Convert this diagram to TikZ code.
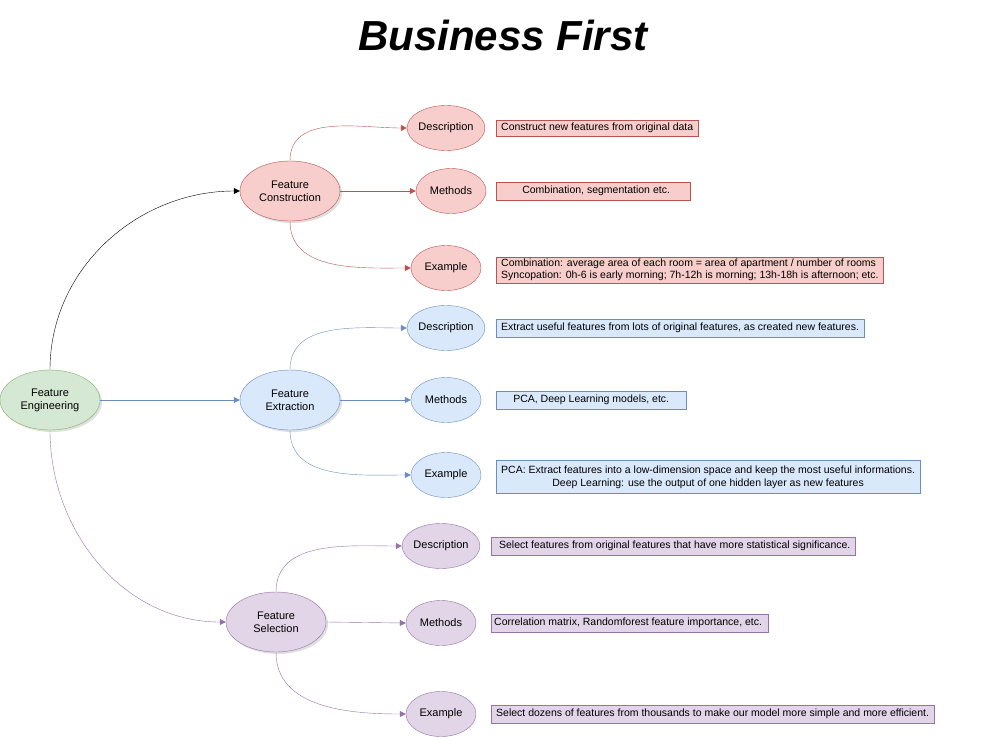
\documentclass[tikz,border=0pt]{standalone}
\usepackage{fontspec}
\setmainfont{Liberation Sans}
\usetikzlibrary{shapes.geometric,shadows,arrows.meta}
\definecolor{rf}{HTML}{F8CECC}
\definecolor{rd}{HTML}{B85450}
\definecolor{bf}{HTML}{DAE8FC}
\definecolor{bd}{HTML}{6C8EBF}
\definecolor{gf}{HTML}{D5E8D4}
\definecolor{gd}{HTML}{82B366}
\definecolor{pf}{HTML}{E1D5E7}
\definecolor{pd}{HTML}{9673A6}
\begin{document}
\begin{tikzpicture}[x=1pt,y=-1pt,
 big/.style={ellipse,minimum width=100pt,minimum height=60pt,inner sep=0pt,align=center,font=\fontsize{11}{13}\selectfont,drop shadow={shadow xshift=2pt,shadow yshift=-2pt,fill=black!25}},
 sm/.style={ellipse,minimum width=70pt,minimum height=45pt,inner sep=0pt,font=\fontsize{11}{13}\selectfont},
 tb/.style={draw,anchor=west,inner xsep=5pt,inner ysep=3pt,font=\fontsize{10.5}{13}\selectfont,align=left},
 R/.style={fill=rf,draw=rd},B/.style={fill=bf,draw=bd},G/.style={fill=gf,draw=gd},P/.style={fill=pf,draw=pd},
 ar/.style={-{Triangle[length=6pt,width=6pt]},thin}]
\useasboundingbox (0,0) rectangle (997,737);
\node (t) at (503,35) {\fontsize{42}{48}\selectfont\bfseries\itshape Business First};
\node[big,G] (fe) at (50,400) {Feature\\Engineering};
\node[big,R] (fc) at (290,191) {Feature\\Construction};
\node[big,B] (fx) at (290,400) {Feature\\Extraction};
\node[big,P] (fs) at (276,622) {Feature\\Selection};
\node[sm,R] (rd1) at (446,128) {Description};
\node[sm,R] (rm) at (451,191) {Methods};
\node[sm,R] (re) at (446,268) {Example};
\node[tb,R] (rt1) at (496,128) {Construct new features from original data};
\node[tb,R,minimum width=194pt,inner ysep=4pt] (rt2) at (496,191) {\ \ Combination, segmentation etc.};
\node[tb,R,inner ysep=2pt,font=\fontsize{10.5}{12}\selectfont] (rt3) at (496,270) {Combination: average area of each room = area of apartment / number of rooms\\Syncopation: 0h-6 is early morning; 7h-12h is morning; 13h-18h is afternoon; etc.};
\node[sm,B] (bd1) at (446,328) {Description};
\node[sm,B] (bm) at (446,400) {Methods};
\node[sm,B] (be) at (446,475) {Example};
\node[tb,B,inner ysep=4pt] (bt1) at (496,328) {Extract useful features from lots of original features, as created new features.};
\node[tb,B,minimum width=190pt,inner ysep=4pt] (bt2) at (496,400) {PCA, Deep Learning models, etc.};
\node[tb,B,align=center,inner ysep=5pt] (bt3) at (496,477) {PCA: Extract features into a low-dimension space and keep the most useful informations.\\Deep Learning: use the output of one hidden layer as new features};
\node[sm,P] (pd1) at (441,546) {Description};
\node[sm,P] (pm) at (441,623) {Methods};
\node[sm,P] (pe) at (441,714) {Example};
\node[tb,P,inner ysep=4pt] (pt1) at (491,546) {\ Select features from original features that have more statistical significance.};
\node[tb,P,inner xsep=3pt,inner ysep=4pt] (pt2) at (491,623) {Correlation matrix, Randomforest feature importance, etc.\ };
\node[tb,P,inner ysep=4pt] (pt3) at (491,714) {Select dozens of features from thousands to make our model more simple and more efficient.};
\draw[ar,black] (fe.north) to[out=90,in=180] (fc.west);
\draw[ar,bd] (fe.east) -- (fx.west);
\draw[ar,pd] (fe.south) to[out=-90,in=180] (fs.west);
\draw[ar,rd] (fc.north) to[out=90,in=180] (rd1.west);
\draw[ar,rd] (fc.east) -- (rm.west);
\draw[ar,rd] (fc.south) to[out=-90,in=180] (re.west);
\draw[ar,bd] (fx.north) to[out=90,in=180] (bd1.west);
\draw[ar,bd] (fx.east) -- (bm.west);
\draw[ar,bd] (fx.south) to[out=-90,in=180] (be.west);
\draw[ar,pd] (fs.north) to[out=90,in=180] (pd1.west);
\draw[ar,pd] (fs.east) -- (pm.west);
\draw[ar,pd] (fs.south) to[out=-90,in=180] (pe.west);
\end{tikzpicture}
\end{document}
